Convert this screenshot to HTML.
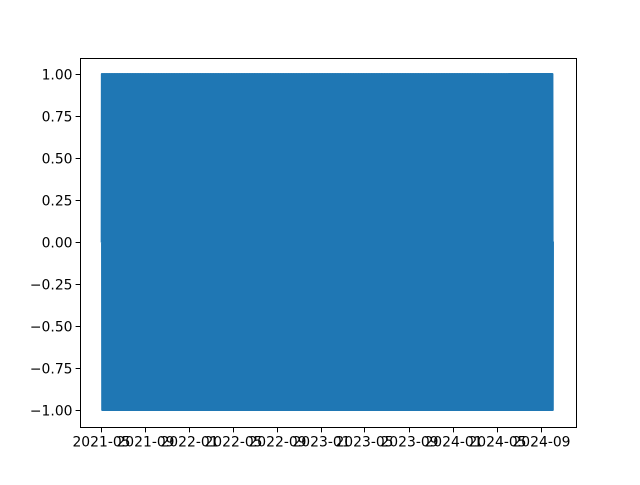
<!DOCTYPE html>
<html><head><meta charset="utf-8"><style>
body{margin:0;background:#fff}
svg text{font-family:"DejaVu Sans","Liberation Sans",sans-serif;font-size:13.9px;fill:#000}
</style></head><body>
<svg id="chart" width="640" height="480" xmlns="http://www.w3.org/2000/svg">
<rect width="640" height="480" fill="#fff"/>
<g id="plot"></g>
<g id="axes"></g>
</svg>
<script>
const startDate = "2021-05-03";
const endDate = "2024-10-04";
const cyclePattern = [0, 1, 0, -1];
const xTickLabels = ["2021-05","2021-09","2022-01","2022-05","2022-09","2023-01","2023-05","2023-09","2024-01","2024-05","2024-09"];
const yTicks = [-1,-0.75,-0.5,-0.25,0,0.25,0.5,0.75,1];

const NS="http://www.w3.org/2000/svg";
const L=80.5,R=576.5,T=58.5,B=427.5;
const origin=Date.UTC(2021,4,1), DAY=86400000;
function days(s){const [y,m,d]=s.split("-").map(Number);return (Date.UTC(y,m-1,d||1)-origin)/DAY;}
function xs(dd){return 101+dd*(440/1219);}
function ys(v){return 242-v*168;}
const plot=document.getElementById("plot"), axes=document.getElementById("axes");

const d0=days(startDate), d1=days(endDate);
let pts=[];
for(let d=d0,i=0; d<=d1; d+=0.5,i++){
  const v = (d+0.5>d1) ? 0 : cyclePattern[i%cyclePattern.length];
  pts.push(xs(d).toFixed(2)+","+ys(v).toFixed(2));
}
const line=document.createElementNS(NS,"polyline");


line.setAttribute("points",pts.join(" "));
line.setAttribute("fill","none");line.setAttribute("stroke","#1f77b4");line.setAttribute("stroke-width","2.1");
line.setAttribute("stroke-linejoin","round");line.setAttribute("stroke-linecap","round");
plot.appendChild(line);

const frame=document.createElementNS(NS,"rect");


frame.setAttribute("x",L);frame.setAttribute("y",T);frame.setAttribute("width",R-L);frame.setAttribute("height",B-T);
frame.setAttribute("fill","none");frame.setAttribute("stroke","#000");frame.setAttribute("stroke-width","1");
axes.appendChild(frame);

xTickLabels.forEach(lbl=>{
  const x=Math.round(xs(days(lbl+"-01")))+0.5;
  const t=document.createElementNS(NS,"line");
  
  
  t.setAttribute("x1",x);t.setAttribute("x2",x);t.setAttribute("y1",B);t.setAttribute("y2",B+4.9);
  t.setAttribute("stroke","#000");t.setAttribute("stroke-width","1");axes.appendChild(t);
  const tx=document.createElementNS(NS,"text");
  
  
  tx.setAttribute("x",x);tx.setAttribute("y",B+19);tx.setAttribute("text-anchor","middle");
  tx.textContent=lbl;axes.appendChild(tx);
});
yTicks.forEach(v=>{
  const y=Math.round(ys(v))+0.5;
  const t=document.createElementNS(NS,"line");
  
  
  t.setAttribute("x1",L-4.9);t.setAttribute("x2",L);t.setAttribute("y1",y);t.setAttribute("y2",y);
  t.setAttribute("stroke","#000");t.setAttribute("stroke-width","1");axes.appendChild(t);
  const tx=document.createElementNS(NS,"text");
  
  
  tx.setAttribute("x",L-8);tx.setAttribute("y",y+5);tx.setAttribute("text-anchor","end");
  tx.textContent=(v<0?"\u2212":"")+Math.abs(v).toFixed(2);axes.appendChild(tx);
});
</script>
</body></html>
